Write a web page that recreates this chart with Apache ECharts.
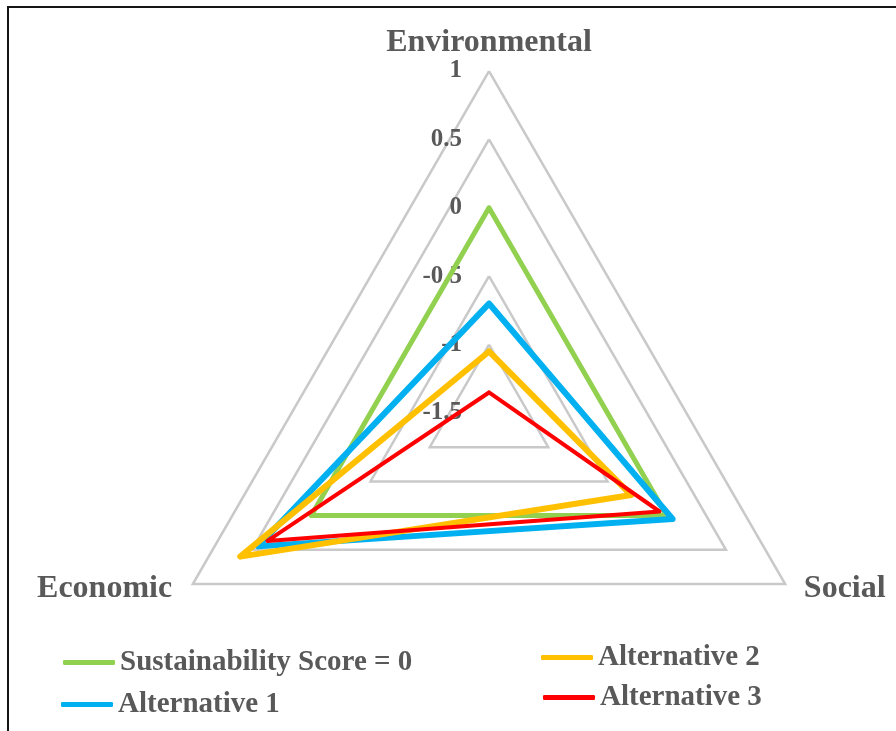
<!DOCTYPE html>
<html>
<head>
<meta charset="utf-8">
<script src="https://cdn.jsdelivr.net/npm/echarts@6/dist/echarts.min.js"></script>
<style>
  html, body { margin: 0; padding: 0; background: #ffffff; }
  #chart { position: absolute; left: 0; top: 0; width: 896px; height: 731px; }
  #edgeTop { position: absolute; left: 7px; top: 6px; width: 889px; height: 2px; background: #151515; }
  #edgeLeft { position: absolute; left: 7px; top: 6px; width: 2px; height: 725px; background: #151515; }
</style>
</head>
<body>
<div id="chart"></div>
<div id="edgeTop"></div>
<div id="edgeLeft"></div>
<script>
// Pillars of the assessment, in radar order (top, lower left, lower right)
const pillars = ['Environmental', 'Economic', 'Social'];

// Score scale shared by all three axes
const scoreMin = -1.5;
const scoreMax = 1;
const scoreStep = 0.5;

// Scores per pillar: [Environmental, Economic, Social]
const seriesNames = ['Sustainability Score = 0', 'Alternative 1', 'Alternative 2', 'Alternative 3'];
const neutralScore = [0, 0, 0];
const alternative1 = [-0.7, 0.45, 0.05];
const alternative2 = [-1.05, 0.6, -0.3];
const alternative3 = [-1.35, 0.37, -0.06];

const seriesValues = [neutralScore, alternative1, alternative2, alternative3];
const seriesColors = ['#92d050', '#00b0f0', '#ffc000', '#ff0000'];
const seriesWidths = [5, 6, 6, 4];

const FONT = 'Liberation Serif';
const TEXT = '#595959';

const chart = echarts.init(document.getElementById('chart'), null, { renderer: 'canvas' });

const nameBase = { color: TEXT, fontFamily: FONT, fontWeight: 'bold', fontSize: 32 };

const indicator = pillars.map(function (name, i) {
  const ind = { name: name, min: scoreMin, max: scoreMax };
  if (i === 0) {
    ind.axisLabel = {
      show: true, color: TEXT, fontFamily: FONT, fontWeight: 'bold', fontSize: 25, margin: 27
    };
    ind.nameGap = 8;
  } else if (i === 1) {
    ind.nameGap = 10;
    ind.nameTextStyle = { verticalAlign: 'middle', padding: [0, 12, 0, 0] };
  } else {
    ind.nameGap = 10;
    ind.nameTextStyle = { verticalAlign: 'middle', padding: [0, 0, 0, 10] };
  }
  return ind;
});

const series = seriesNames.map(function (name, i) {
  return {
    type: 'radar',
    name: name,
    z: 2 + i,
    symbol: 'none',
    color: seriesColors[i],
    lineStyle: { color: seriesColors[i], width: seriesWidths[i], join: 'round', cap: 'round' },
    data: [{ name: name, value: seriesValues[i] }]
  };
});

const legendText = { color: TEXT, fontFamily: FONT, fontWeight: 'bold', fontSize: 29 };
function legendFor(name, left, top) {
  return {
    data: [name], left: left, top: top, orient: 'vertical',
    icon: 'roundRect', itemWidth: 52, itemHeight: 5,
    textStyle: legendText, padding: 0, selectedMode: false
  };
}

chart.setOption({
  backgroundColor: '#ffffff',
  animation: false,
  radar: {
    center: [489, 413],
    radius: 342,
    startAngle: 90,
    shape: 'polygon',
    splitNumber: (scoreMax - scoreMin) / scoreStep,
    indicator: indicator,
    axisName: nameBase,
    axisLine: { show: false },
    axisTick: { show: false },
    axisLabel: { show: false },
    splitArea: { show: false },
    splitLine: { lineStyle: { color: '#c9c9c9', width: 2.5 } }
  },
  legend: [
    legendFor(seriesNames[0], 63, 648),
    legendFor(seriesNames[1], 61, 690),
    legendFor(seriesNames[2], 541, 643),
    legendFor(seriesNames[3], 543, 683)
  ],
  series: series
});
</script>
</body>
</html>
